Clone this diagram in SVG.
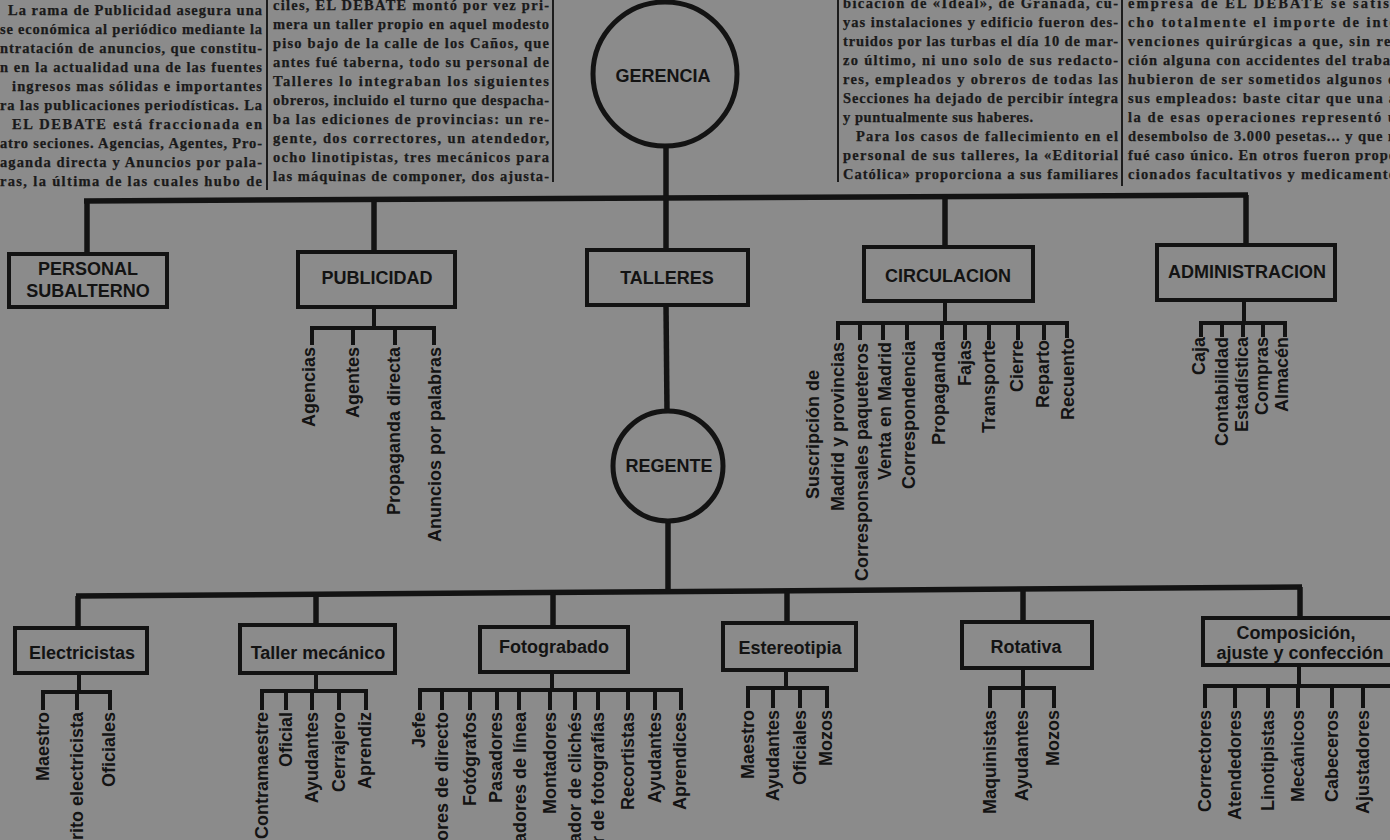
<svg xmlns="http://www.w3.org/2000/svg" width="1390" height="840" viewBox="0 0 1390 840">
<style>
.np{font-family:"Liberation Serif","Times New Roman",serif;font-weight:bold;font-size:14.5px;fill:#1a1a1a;stroke:#1a1a1a;stroke-width:0.25}
.bx{font-family:"Liberation Sans",Arial,sans-serif;font-weight:bold;font-size:18px;fill:#131313;text-anchor:middle}
.lf{font-family:"Liberation Sans",Arial,sans-serif;font-weight:bold;font-size:18px;fill:#131313;text-anchor:end}
.box{fill:none;stroke:#131313;stroke-width:4}
.ln{fill:none;stroke:#131313;stroke-width:5.5}
.tk{fill:none;stroke:#131313;stroke-width:4}
.rule{stroke:#1c1c1c;stroke-width:2}
</style>
<rect width="1390" height="840" fill="#8b8b8b"/>
<g id="newspaper-text">
<line class="rule" x1="267" y1="0" x2="267" y2="190"/>
<line class="rule" x1="553" y1="0" x2="553" y2="182"/>
<line class="rule" x1="838" y1="0" x2="838" y2="182"/>
<line class="rule" x1="1122" y1="0" x2="1122" y2="186"/>
<text class="np" x="8" y="15" textLength="254">La rama de Publicidad asegura una</text>
<text class="np" x="0" y="34" textLength="262">se económica al periódico mediante la</text>
<text class="np" x="0" y="53" textLength="262">ntratación de anuncios, que constitu-</text>
<text class="np" x="0" y="72" textLength="262">n en la actualidad una de las fuentes</text>
<text class="np" x="12" y="91" textLength="250">ingresos mas sólidas e importantes</text>
<text class="np" x="0" y="110" textLength="262">ra las publicaciones periodísticas. La</text>
<text class="np" x="12" y="129" textLength="250">EL DEBATE está fraccionada en</text>
<text class="np" x="0" y="148" textLength="262">atro seciones. Agencias, Agentes, Pro-</text>
<text class="np" x="0" y="167" textLength="262">aganda directa y Anuncios por pala-</text>
<text class="np" x="0" y="186" textLength="262">ras, la última de las cuales hubo de</text>
<text class="np" x="273" y="10" textLength="276">ciles, EL DEBATE montó por vez pri-</text>
<text class="np" x="273" y="29" textLength="276">mera un taller propio en aquel modesto</text>
<text class="np" x="273" y="48" textLength="276">piso bajo de la calle de los Caños, que</text>
<text class="np" x="273" y="67" textLength="276">antes fué taberna, todo su personal de</text>
<text class="np" x="273" y="86" textLength="276">Talleres lo integraban los siguientes</text>
<text class="np" x="273" y="105" textLength="276">obreros, incluido el turno que despacha-</text>
<text class="np" x="273" y="124" textLength="276">ba las ediciones de provincias: un re-</text>
<text class="np" x="273" y="143" textLength="276">gente, dos correctores, un atendedor,</text>
<text class="np" x="273" y="162" textLength="276">ocho linotipistas, tres mecánicos para</text>
<text class="np" x="273" y="181" textLength="276">las máquinas de componer, dos ajusta-</text>
<text class="np" x="843" y="8" textLength="275">bicación de «Ideal», de Granada, cu-</text>
<text class="np" x="843" y="27" textLength="275">yas instalaciones y edificio fueron des-</text>
<text class="np" x="843" y="46" textLength="275">truidos por las turbas el día 10 de mar-</text>
<text class="np" x="843" y="65" textLength="275">zo último, ni uno solo de sus redacto-</text>
<text class="np" x="843" y="84" textLength="275">res, empleados y obreros de todas las</text>
<text class="np" x="843" y="103" textLength="275">Secciones ha dejado de percibir íntegra</text>
<text class="np" x="843" y="122" textLength="190">y puntualmente sus haberes.</text>
<text class="np" x="856" y="141" textLength="262">Para los casos de fallecimiento en el</text>
<text class="np" x="843" y="160" textLength="275">personal de sus talleres, la «Editorial</text>
<text class="np" x="843" y="179" textLength="275">Católica» proporciona a sus familiares</text>
<text class="np" x="1128" y="8" textLength="268">empresa de EL DEBATE se satisf</text>
<text class="np" x="1128" y="27" textLength="268">cho totalmente el importe de inte</text>
<text class="np" x="1128" y="46" textLength="268">venciones quirúrgicas a que, sin rel</text>
<text class="np" x="1128" y="65" textLength="268">ción alguna con accidentes del trabaj</text>
<text class="np" x="1128" y="84" textLength="268">hubieron de ser sometidos algunos d</text>
<text class="np" x="1128" y="103" textLength="268">sus empleados: baste citar que una a</text>
<text class="np" x="1128" y="122" textLength="268">la de esas operaciones representó u</text>
<text class="np" x="1128" y="141" textLength="268">desembolso de 3.000 pesetas... y que n</text>
<text class="np" x="1128" y="160" textLength="268">fué caso único. En otros fueron propo</text>
<text class="np" x="1128" y="179" textLength="268">cionados facultativos y medicamento</text>
</g>
<g id="connectors">
<line class="ln" x1="666" y1="147" x2="666" y2="198"/>
<line class="ln" x1="84" y1="201" x2="1248" y2="195"/>
<line class="ln" x1="87" y1="201" x2="87" y2="253"/>
<line class="ln" x1="374" y1="199.5" x2="374" y2="252"/>
<line class="ln" x1="666" y1="198" x2="666" y2="250"/>
<line class="ln" x1="945" y1="196.6" x2="945" y2="247"/>
<line class="ln" x1="1246" y1="195" x2="1246" y2="245"/>
<line class="ln" x1="666" y1="305" x2="667" y2="411"/>
<line class="ln" x1="668" y1="521" x2="668" y2="592"/>
<line class="ln" x1="76" y1="596" x2="1302" y2="587"/>
<line class="ln" x1="78" y1="596" x2="78" y2="628"/>
<line class="ln" x1="316" y1="594.2" x2="316" y2="625"/>
<line class="ln" x1="553" y1="592.5" x2="553" y2="627"/>
<line class="ln" x1="787" y1="590.8" x2="787" y2="623"/>
<line class="ln" x1="1023" y1="589" x2="1023" y2="622"/>
<line class="ln" x1="1300" y1="587" x2="1300" y2="618"/>
<path class="tk" d="M374 307V328M312 345V328H434V345M353 328V345M395 328V345"/>
<path class="tk" d="M945 301V323M838 340V323H1067V338M860 323V340M883 323V340M907 323V340M942 323V340M965 323V340M989 323V340M1018 323V340M1044 323V340"/>
<path class="tk" d="M1244 300V323M1201 337V323H1285V337M1222 323V337M1243 323V337M1263 323V337"/>
<path class="tk" d="M79 673V692M43 710V692H110V710M77 692V710"/>
<path class="tk" d="M316 673V691M262 710V691H366V710M286 691V710M312 691V710M339 691V710"/>
<path class="tk" d="M552 672V690M420 710V690H681V710M442 690V710M470 690V710M497 690V710M519 690V710M550 690V710M575 690V710M598 690V710M628 690V710M655 690V710"/>
<path class="tk" d="M786 670V688M748 708V688H827V708M773 688V708M800 688V708"/>
<path class="tk" d="M1023 668V688M990 708V688H1054V708M1023 688V708"/>
<path class="tk" d="M1299 665V686M1205 708V686H1392M1235 686V708M1268 686V708M1298 686V708M1332 686V708M1363 686V708"/>
</g>
<g id="gerencia">
<circle cx="665" cy="74" r="72" fill="none" stroke="#131313" stroke-width="5"/>
<text class="bx" x="663" y="82">GERENCIA</text>
</g>
<g id="personal-subalterno">
<rect class="box" x="9" y="254" width="158" height="53"/>
<text class="bx" x="88" y="275">PERSONAL</text>
<text class="bx" x="88" y="297">SUBALTERNO</text>
</g>
<g id="publicidad">
<rect class="box" x="298" y="252" width="157" height="55"/>
<text class="bx" x="377" y="284">PUBLICIDAD</text>
</g>
<g id="talleres">
<rect class="box" x="587" y="250" width="161" height="55"/>
<text class="bx" x="667" y="284">TALLERES</text>
</g>
<g id="circulacion">
<rect class="box" x="864" y="247" width="169" height="54"/>
<text class="bx" x="948" y="282">CIRCULACION</text>
</g>
<g id="administracion">
<rect class="box" x="1157" y="245" width="178" height="55"/>
<text class="bx" x="1247" y="278">ADMINISTRACION</text>
</g>
<g id="regente">
<circle cx="668" cy="466" r="55" fill="none" stroke="#131313" stroke-width="5"/>
<text class="bx" x="669" y="472">REGENTE</text>
</g>
<g id="electricistas">
<rect class="box" x="15" y="628" width="132" height="45"/>
<text class="bx" x="82" y="659">Electricistas</text>
</g>
<g id="taller-mecanico">
<rect class="box" x="240" y="625" width="155" height="48"/>
<text class="bx" x="318" y="659">Taller mecánico</text>
</g>
<g id="fotograbado">
<rect class="box" x="480" y="627" width="148" height="45"/>
<text class="bx" x="554" y="653">Fotograbado</text>
</g>
<g id="estereotipia">
<rect class="box" x="723" y="623" width="133" height="47"/>
<text class="bx" x="790" y="654">Estereotipia</text>
</g>
<g id="rotativa">
<rect class="box" x="962" y="622" width="130" height="46"/>
<text class="bx" x="1026" y="653">Rotativa</text>
</g>
<g id="composicion">
<rect class="box" x="1203" y="618" width="200" height="47"/>
<text class="bx" x="1296" y="639">Composición,</text>
<text class="bx" x="1300" y="659">ajuste y confección</text>
</g>
<g id="publicidad-secciones">
<text class="lf" transform="translate(315,347) rotate(-90)">Agencias</text>
<text class="lf" transform="translate(359,347) rotate(-90)">Agentes</text>
<text class="lf" transform="translate(400,347) rotate(-90)">Propaganda directa</text>
<text class="lf" transform="translate(441,347) rotate(-90)">Anuncios por palabras</text>
</g>
<g id="circulacion-secciones">
<text class="lf" transform="translate(819,370) rotate(-90)">Suscripción de</text>
<text class="lf" transform="translate(844,342) rotate(-90)">Madrid y provincias</text>
<text class="lf" transform="translate(868,343) rotate(-90)">Corresponsales paqueteros</text>
<text class="lf" transform="translate(891,342) rotate(-90)">Venta en Madrid</text>
<text class="lf" transform="translate(915,341) rotate(-90)">Correspondencia</text>
<text class="lf" transform="translate(945,341) rotate(-90)">Propaganda</text>
<text class="lf" transform="translate(971,340) rotate(-90)">Fajas</text>
<text class="lf" transform="translate(995,340) rotate(-90)">Transporte</text>
<text class="lf" transform="translate(1023,340) rotate(-90)">Cierre</text>
<text class="lf" transform="translate(1049,340) rotate(-90)">Reparto</text>
<text class="lf" transform="translate(1074,338) rotate(-90)">Recuento</text>
</g>
<g id="administracion-secciones">
<text class="lf" transform="translate(1205,337) rotate(-90)">Caja</text>
<text class="lf" transform="translate(1228,337) rotate(-90)">Contabilidad</text>
<text class="lf" transform="translate(1248,337) rotate(-90)">Estadística</text>
<text class="lf" transform="translate(1268,337) rotate(-90)">Compras</text>
<text class="lf" transform="translate(1288,337) rotate(-90)">Almacén</text>
</g>
<g id="electricistas-personal">
<text class="lf" transform="translate(49,712) rotate(-90)">Maestro</text>
<text class="lf" transform="translate(83,712) rotate(-90)">Perito electricista</text>
<text class="lf" transform="translate(115,712) rotate(-90)">Oficiales</text>
</g>
<g id="taller-mecanico-personal">
<text class="lf" transform="translate(268,712) rotate(-90)">Contramaestre</text>
<text class="lf" transform="translate(292,712) rotate(-90)">Oficial</text>
<text class="lf" transform="translate(318,712) rotate(-90)">Ayudantes</text>
<text class="lf" transform="translate(345,712) rotate(-90)">Cerrajero</text>
<text class="lf" transform="translate(371,712) rotate(-90)">Aprendiz</text>
</g>
<g id="fotograbado-personal">
<text class="lf" transform="translate(425,712) rotate(-90)">Jefe</text>
<text class="lf" transform="translate(448,712) rotate(-90)">Operadores de directo</text>
<text class="lf" transform="translate(476,712) rotate(-90)">Fotógrafos</text>
<text class="lf" transform="translate(502,712) rotate(-90)">Pasadores</text>
<text class="lf" transform="translate(526,712) rotate(-90)">Grabadores de línea</text>
<text class="lf" transform="translate(556,712) rotate(-90)">Montadores</text>
<text class="lf" transform="translate(581,712) rotate(-90)">Retocador de clichés</text>
<text class="lf" transform="translate(604,712) rotate(-90)">Retocador de fotografías</text>
<text class="lf" transform="translate(634,712) rotate(-90)">Recortistas</text>
<text class="lf" transform="translate(661,712) rotate(-90)">Ayudantes</text>
<text class="lf" transform="translate(686,712) rotate(-90)">Aprendices</text>
</g>
<g id="estereotipia-personal">
<text class="lf" transform="translate(754,710) rotate(-90)">Maestro</text>
<text class="lf" transform="translate(779,710) rotate(-90)">Ayudantes</text>
<text class="lf" transform="translate(806,710) rotate(-90)">Oficiales</text>
<text class="lf" transform="translate(832,710) rotate(-90)">Mozos</text>
</g>
<g id="rotativa-personal">
<text class="lf" transform="translate(996,710) rotate(-90)">Maquinistas</text>
<text class="lf" transform="translate(1028,710) rotate(-90)">Ayudantes</text>
<text class="lf" transform="translate(1059,710) rotate(-90)">Mozos</text>
</g>
<g id="composicion-personal">
<text class="lf" transform="translate(1211,710) rotate(-90)">Correctores</text>
<text class="lf" transform="translate(1241,710) rotate(-90)">Atendedores</text>
<text class="lf" transform="translate(1274,710) rotate(-90)">Linotipistas</text>
<text class="lf" transform="translate(1304,710) rotate(-90)">Mecánicos</text>
<text class="lf" transform="translate(1338,710) rotate(-90)">Cabeceros</text>
<text class="lf" transform="translate(1369,710) rotate(-90)">Ajustadores</text>
</g>
</svg>
